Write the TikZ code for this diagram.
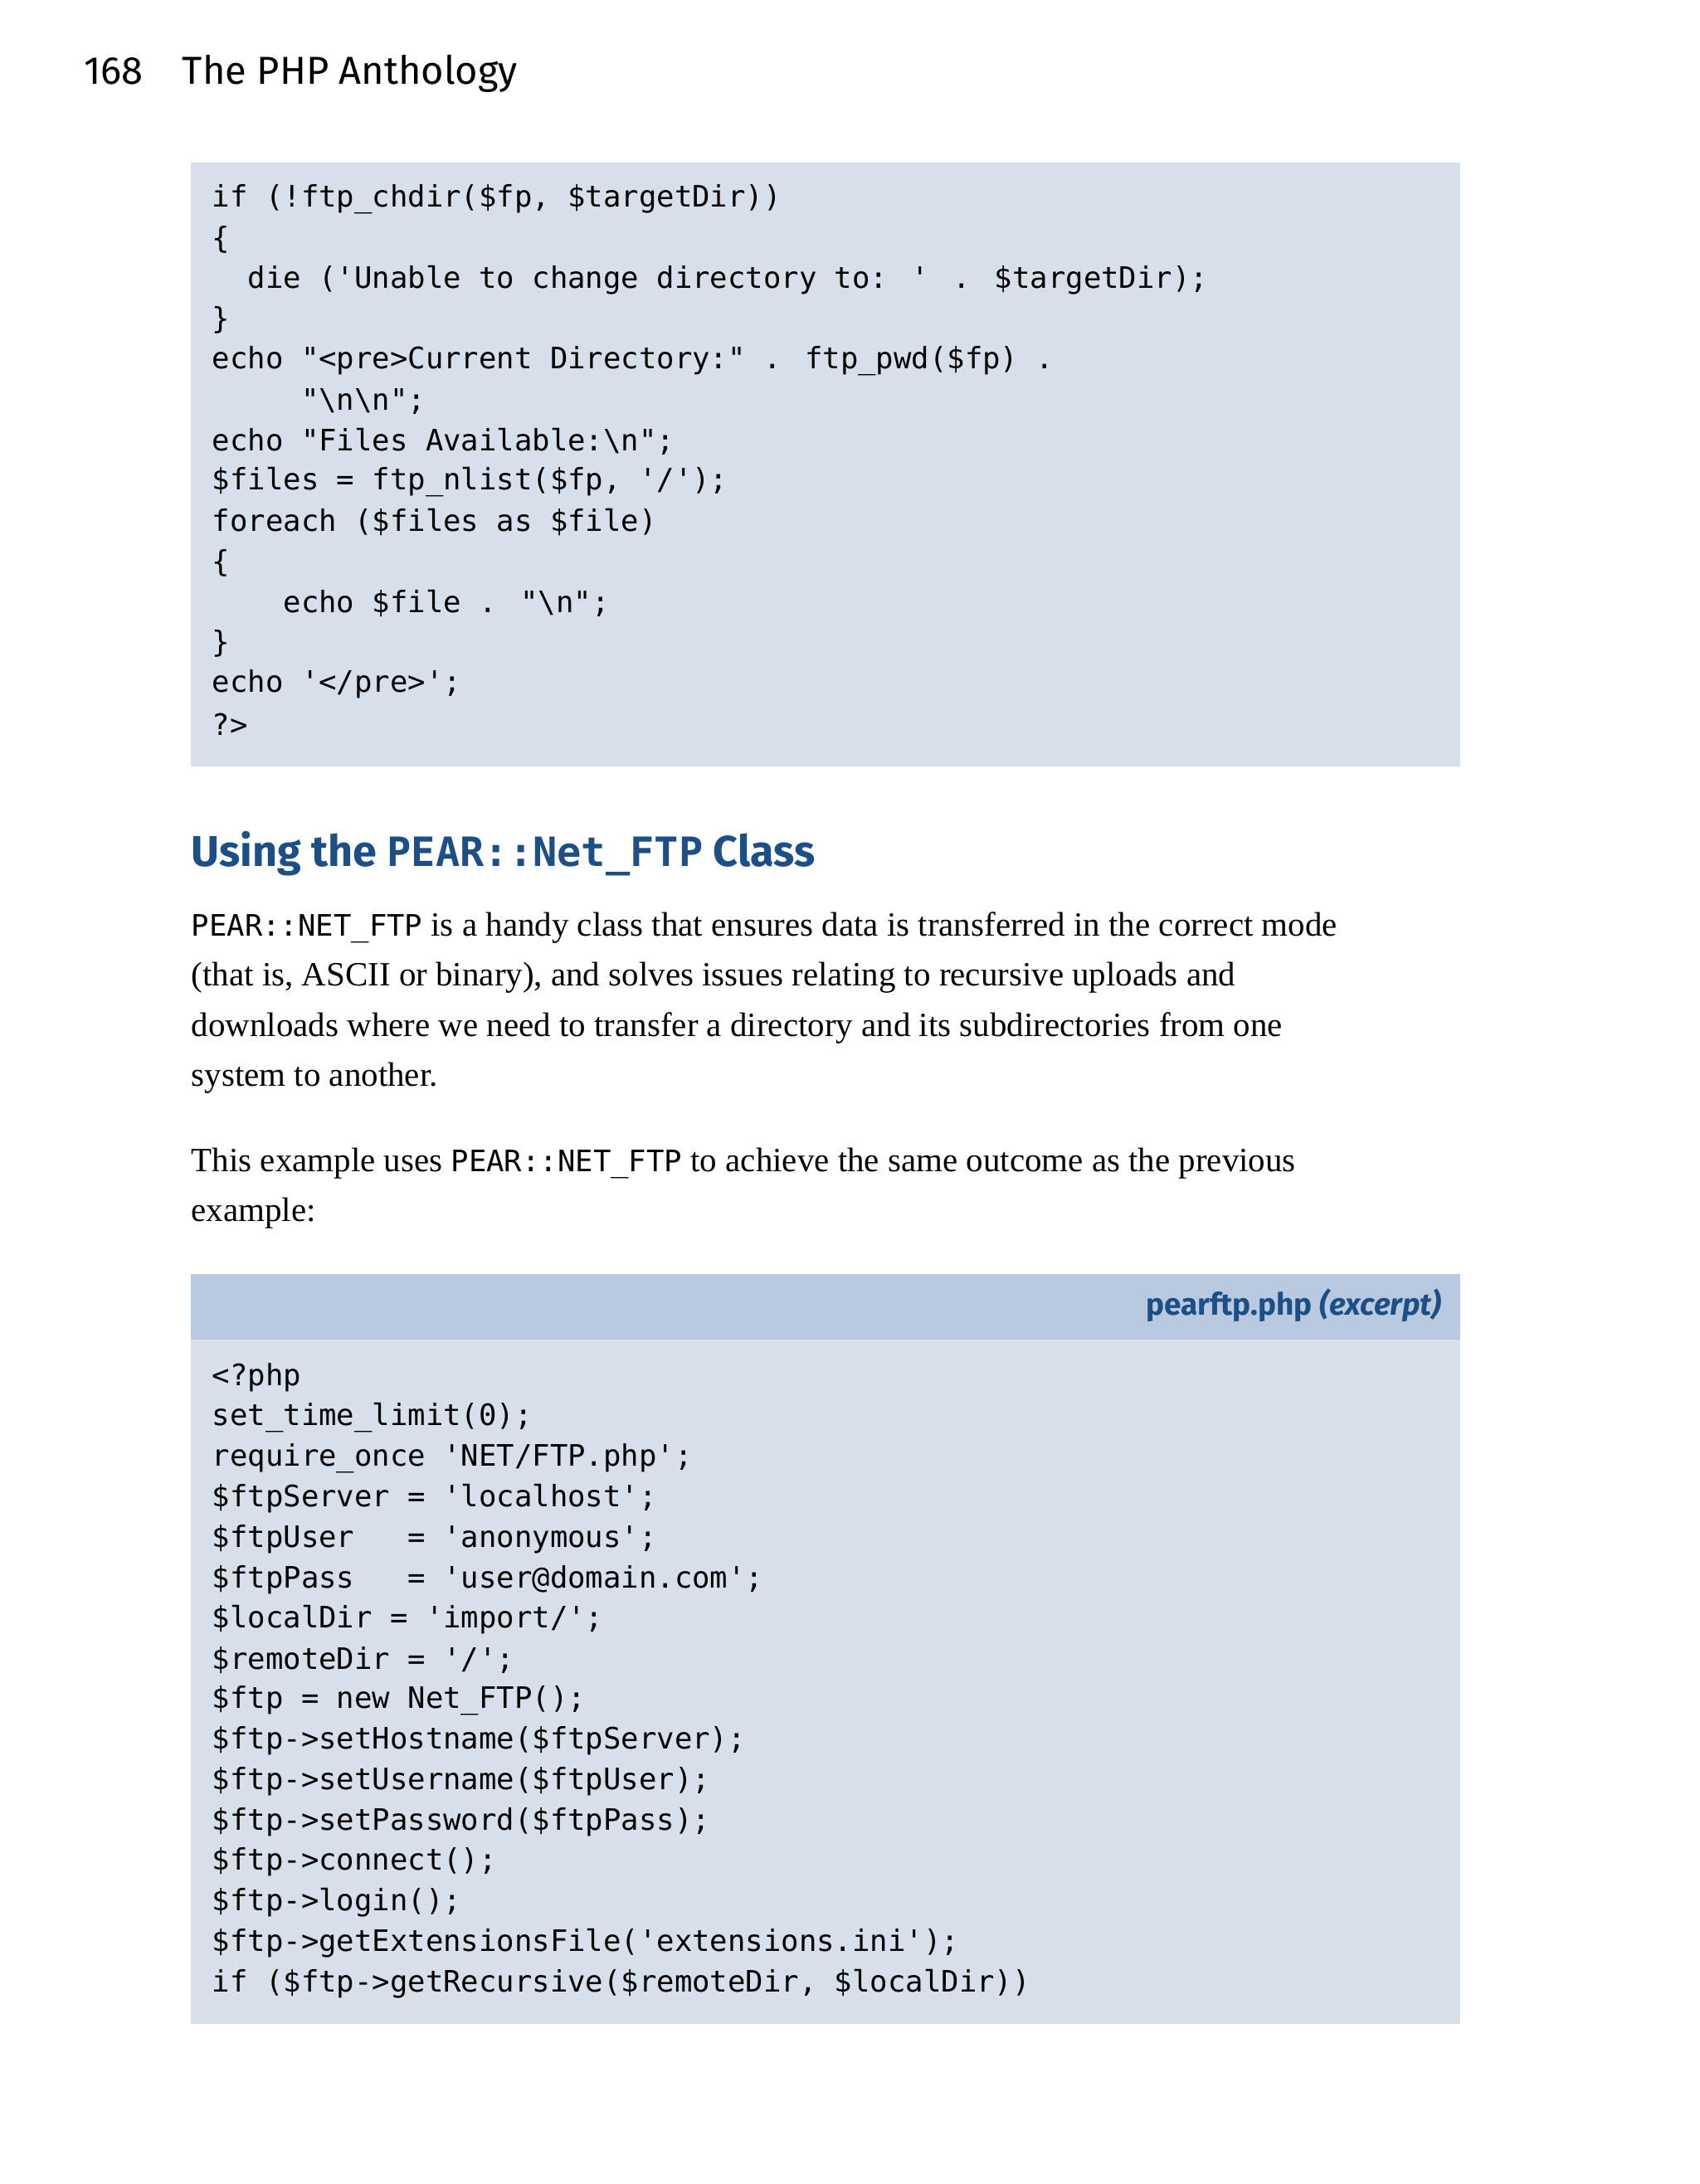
\documentclass[tikz,border=0pt]{standalone}
\usepackage{fontspec}
\setmainfont{Liberation Serif}
\newfontfamily\codefont{DejaVu Sans Mono}
\newfontfamily\hfont{Fira Sans}
\definecolor{boxbg}{HTML}{D7DFEB}
\definecolor{bandbg}{HTML}{B9C9E0}
\definecolor{headblue}{HTML}{1B4F86}
\begin{document}
\begin{tikzpicture}[x=0.5pt,y=-0.5pt,
  code/.style={anchor=west,inner sep=0pt,font=\codefont\fontsize{10.6}{12}\selectfont},
  body/.style={anchor=west,inner sep=0pt,font=\fontsize{12.2}{14}\selectfont},
  box/.style={fill=boxbg,draw=none}]
\useasboundingbox (0,0) rectangle (1220,1568);
\fill[white] (0,0) rectangle (1220,1568);
\node[anchor=west,inner sep=0pt,font=\hfont\fontsize{14}{16}\selectfont] (pg) at (60,53) {168\hspace{14pt}The PHP Anthology};
% box 1
\path[box] (137,117) rectangle (1048,550);
\node[code] (a1) at (152,143) {if (!ftp\_chdir(\$fp, \$targetDir))};
\node[code] (a2) at (152,172) {\{};
\node[code] (a3) at (152,201) {~~die ('Unable to change directory to: ' . \$targetDir);};
\node[code] (a4) at (152,230) {\}};
\node[code] (a5) at (152,259) {echo "<pre>Current Directory:" . ftp\_pwd(\$fp) .};
\node[code] (a6) at (152,288) {~~~~~"\textbackslash n\textbackslash n";};
\node[code] (a7) at (152,317) {echo "Files Available:\textbackslash n";};
\node[code] (a8) at (152,346) {\$files = ftp\_nlist(\$fp, '/');};
\node[code] (a9) at (152,375) {foreach (\$files as \$file)};
\node[code] (a10) at (152,404) {\{};
\node[code] (a11) at (152,433) {~~~~echo \$file . "\textbackslash n";};
\node[code] (a12) at (152,462) {\}};
\node[code] (a13) at (152,491) {echo '</pre>';};
\node[code] (a14) at (152,520) {?>};
% heading
\node[anchor=west,inner sep=0pt,text=headblue,font=\hfont\fontsize{15.5}{18}\selectfont\bfseries] (h) at (137,613)
  {Using the {\codefont\fontsize{14.5}{18}\selectfont PEAR::Net\_FTP} Class};
\node[body] (p1) at (137,666) {{\codefont\fontsize{10.6}{12}\selectfont PEAR::NET\_FTP} is a handy class that ensures data is transferred in the correct mode};
\node[body] (p2) at (137,702) {(that is, ASCII or binary), and solves issues relating to recursive uploads and};
\node[body] (p3) at (137,738) {downloads where we need to transfer a directory and its subdirectories from one};
\node[body] (p4) at (137,774) {system to another.};
\node[body] (q1) at (137,835) {This example uses {\codefont\fontsize{10.6}{12}\selectfont PEAR::NET\_FTP} to achieve the same outcome as the previous};
\node[body] (q2) at (137,871) {example:};
% box 2
\path[box] (137,915) rectangle (1048,1453);
\fill[bandbg] (137,915) rectangle (1048,962);
\node[anchor=east,inner sep=0pt,text=headblue,font=\hfont\fontsize{11}{13}\selectfont\bfseries] (fn) at (1035,937) {pearftp.php \textit{(excerpt)}};
\node[code] (b1) at (152,989) {<?php};
\node[code] (b2) at (152,1018) {set\_time\_limit(0);};
\node[code] (b3) at (152,1047) {require\_once 'NET/FTP.php';};
\node[code] (b4) at (152,1076) {\$ftpServer = 'localhost';};
\node[code] (b5) at (152,1105) {\$ftpUser~~~= 'anonymous';};
\node[code] (b6) at (152,1134) {\$ftpPass~~~= 'user@domain.com';};
\node[code] (b7) at (152,1163) {\$localDir = 'import/';};
\node[code] (b8) at (152,1192) {\$remoteDir = '/';};
\node[code] (b9) at (152,1221) {\$ftp = new Net\_FTP();};
\node[code] (b10) at (152,1250) {\$ftp->setHostname(\$ftpServer);};
\node[code] (b11) at (152,1279) {\$ftp->setUsername(\$ftpUser);};
\node[code] (b12) at (152,1308) {\$ftp->setPassword(\$ftpPass);};
\node[code] (b13) at (152,1337) {\$ftp->connect();};
\node[code] (b14) at (152,1366) {\$ftp->login();};
\node[code] (b15) at (152,1395) {\$ftp->getExtensionsFile('extensions.ini');};
\node[code] (b16) at (152,1424) {if (\$ftp->getRecursive(\$remoteDir, \$localDir))};
\end{tikzpicture}
\end{document}
